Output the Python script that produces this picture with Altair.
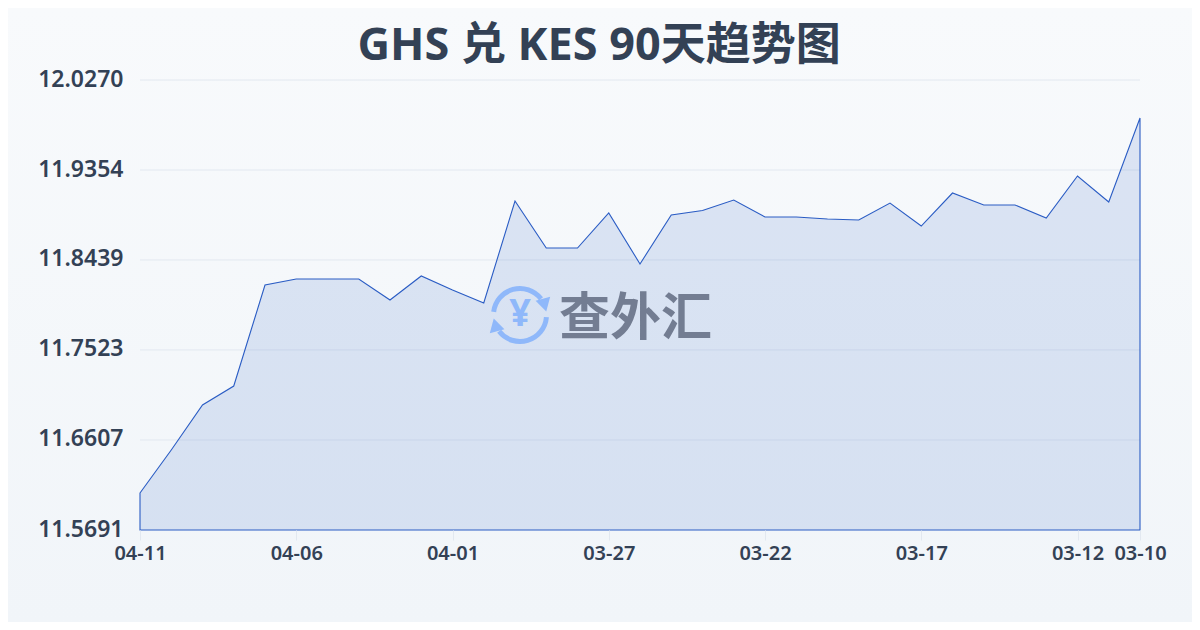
import altair as alt
import pandas as pd

dates = ["04-11","04-10","04-09","04-08","04-07","04-06","04-05","04-04","04-03","04-02","04-01",
         "03-31","03-30","03-29","03-28","03-27","03-26","03-25","03-24","03-23","03-22","03-21",
         "03-20","03-19","03-18","03-17","03-16","03-15","03-14","03-13","03-12","03-11","03-10"]
rates = [11.6067,11.6505,11.6963,11.7156,11.8184,11.8245,11.8245,11.8245,11.8031,11.8276,11.8133,
         11.8001,11.9039,11.8560,11.8560,11.8917,11.8398,11.8896,11.8942,11.9049,11.8876,11.8876,
         11.8856,11.8845,11.9018,11.8784,11.9120,11.8998,11.8998,11.8866,11.9293,11.9029,11.9883]
y_ticks = [12.0270,11.9354,11.8439,11.7523,11.6607,11.5691]
x_labels = ["04-11","04-06","04-01","03-27","03-22","03-17","03-12","03-10"]
title_text = "GHS 兑 KES 90天趋势图"
brand = "查外汇"

FONT = "Noto Sans, Noto Sans CJK SC"
INK = "#334155"
LOGO = "#8fb8fa"
W, H = 1000, 450
BASE = y_ticks[-1]

df = pd.DataFrame({"date": dates, "rate": rates, "base": [BASE] * len(rates)})
grid_df = pd.DataFrame({"rate": y_ticks[:-1]})
one = pd.DataFrame({"k": [0]})

x_enc = alt.X("date:N", sort=dates, title=None,
              scale=alt.Scale(type="point", padding=0),
              axis=alt.Axis(values=x_labels, labelAngle=0, labelFont=FONT, labelFontSize=20,
                            labelFontWeight=600, labelColor=INK, labelPadding=3, labelOverlap=False,
                            tickColor="#e2e8f0", tickSize=10, domain=False, grid=False, labelFlush=False,
                            zindex=1))
y_scale = alt.Scale(domain=[BASE, y_ticks[0]], zero=False, nice=False)
y_axis = alt.Axis(values=y_ticks, format=".4f", labelFont=FONT, labelFontSize=23,
                  labelFontWeight=600, labelColor=INK, ticks=False, domain=False, grid=False,
                  labelPadding=17, labelOffset=-1, labelOverlap=False, zindex=1)
y_enc = alt.Y("rate:Q", title=None, scale=y_scale, axis=y_axis)

bg = alt.Chart(one).mark_rect(
    color=alt.Gradient(gradient="linear", x1=0, y1=0, x2=0, y2=1,
                       stops=[alt.GradientStop(color="#f8fafc", offset=0),
                              alt.GradientStop(color="#f1f5f9", offset=1)]),
    clip=False,
).encode(x=alt.value(-132), x2=alt.value(1052), y=alt.value(-72), y2=alt.value(542))

grid = alt.Chart(grid_df).mark_rule(color="#e2e8f0", strokeWidth=1).encode(y=y_enc)

area = alt.Chart(df).mark_area(fill="#2f62c8", fillOpacity=0.14, stroke="#2a5cc4",
                               strokeWidth=1.1, interpolate="linear").encode(
    x=x_enc, y=y_enc, y2=alt.Y2("base:Q"))

LX, LY = 380, 235
arc_top = alt.Chart(one).mark_arc(color=LOGO, radius=29, radius2=24, theta=4.83, theta2=7.2).encode(
    x=alt.value(LX), y=alt.value(LY))
arc_bot = alt.Chart(one).mark_arc(color=LOGO, radius=29, radius2=24, theta=1.65, theta2=4.05).encode(
    x=alt.value(LX), y=alt.value(LY))
head_top = alt.Chart(one).mark_point(shape="triangle", filled=True, color=LOGO, opacity=1, size=230, angle=165).encode(
    x=alt.value(LX + 24), y=alt.value(LY - 12))
head_bot = alt.Chart(one).mark_point(shape="triangle", filled=True, color=LOGO, opacity=1, size=230, angle=345).encode(
    x=alt.value(LX - 24), y=alt.value(LY + 12))
yen = alt.Chart(one).mark_text(text="¥", font=FONT, fontSize=38, fontWeight=700, color=LOGO,
                               align="center", baseline="middle").encode(
    x=alt.value(LX), y=alt.value(LY))
brand_mark = alt.Chart(one).mark_text(text=brand, font=FONT, fontSize=51, fontWeight=700, color="#737d92",
                                      align="left", baseline="middle").encode(
    x=alt.value(419), y=alt.value(240))
title_mark = alt.Chart(one).mark_text(text=title_text, font=FONT, fontSize=45, fontWeight=700, color=INK,
                                      align="center", baseline="middle").encode(
    x=alt.value(459), y=alt.value(-34))

chart = alt.layer(bg, grid, area, arc_top, arc_bot, head_top, head_bot, yen, brand_mark, title_mark).properties(
    width=W, height=H,
    padding={"left": 132, "top": 72, "right": 52, "bottom": 92},
    autosize=alt.AutoSizeParams(type="none"),
).configure_view(stroke=None).configure(background="#f8fafc")

chart.save("out.html", embed_options={"renderer": "svg", "actions": False})
